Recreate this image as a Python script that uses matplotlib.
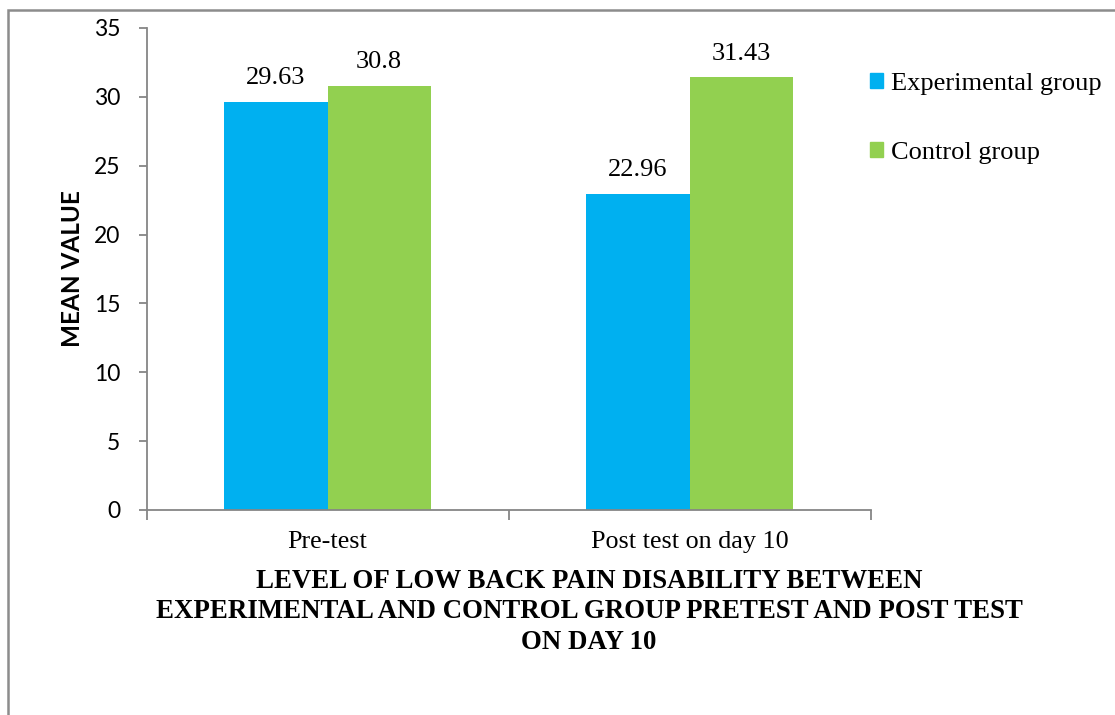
import numpy as np
import matplotlib.pyplot as plt
from matplotlib.patches import Patch, Rectangle

# mean disability scores
categories = ["Pre-test", "Post test on day 10"]
experimental = [29.63, 22.96]
control = [30.8, 31.43]
series_names = ["Experimental group", "Control group"]

blue = "#00B0F0"
green = "#92D050"
axis_grey = "#868686"
serif = ["Liberation Serif", "DejaVu Serif"]
sans = ["Lato", "DejaVu Sans"]

fig = plt.figure(figsize=(11.15, 7.15), dpi=100)
ax = fig.add_axes([146.5 / 1115, 205 / 715, 724 / 1115, 482 / 715])

x = np.arange(len(categories))
width = 1 / 3.5
bars_exp = ax.bar(x - width / 2, experimental, width, color=blue)
bars_ctl = ax.bar(x + width / 2, control, width, color=green)

for bars, vals in [(bars_exp, experimental), (bars_ctl, control)]:
    for b, v in zip(bars, vals):
        ax.annotate(f"{v:g}", (b.get_x() + b.get_width() / 2, v),
                    xytext=(0, 9), textcoords="offset points",
                    ha="center", va="bottom", fontsize=19, family=serif)

ax.set_xlim(-0.5, len(categories) - 0.5)
ax.set_ylim(0, 35)
ax.set_yticks(np.arange(0, 36, 5))
ax.tick_params(axis="y", labelsize=16.5, length=6, width=1.3,
               color=axis_grey, pad=13)
for lbl in ax.get_yticklabels():
    lbl.set_family(sans)

ax.set_xticks(x)
ax.set_xticklabels(categories, fontsize=18.8, family=serif)
ax.tick_params(axis="x", which="major", length=0, pad=15)
ax.set_xticks(np.arange(-0.5, len(categories)), minor=True)
ax.tick_params(axis="x", which="minor", length=7, width=1.3, color=axis_grey)

for side in ["top", "right"]:
    ax.spines[side].set_visible(False)
for side in ["left", "bottom"]:
    ax.spines[side].set_color(axis_grey)
    ax.spines[side].set_linewidth(1.3)

ax.set_ylabel("MEAN VALUE", fontsize=17.5, fontweight="bold", family=sans)
ax.yaxis.set_label_coords(-0.087, 0.5)

fig.text(589 / 1115, 1 - 612 / 715,
         "LEVEL OF LOW BACK PAIN DISABILITY BETWEEN\n"
         "EXPERIMENTAL AND CONTROL GROUP PRETEST AND POST TEST\n"
         "ON DAY 10",
         ha="center", va="center", fontsize=19.4, fontweight="bold",
         family=serif, linespacing=1.3)

handles = [Patch(color=blue), Patch(color=green)]
fig.legend(handles, series_names, loc="upper left",
           bbox_to_anchor=(859 / 1115, 1 - 62 / 715),
           frameon=False, prop={"family": serif, "size": 19},
           handlelength=0.5, handleheight=0.5, handletextpad=0.3,
           labelspacing=1.8, borderaxespad=0)

# outer chart frame (left and top edges only)
fig.patches.append(Rectangle((8 / 1115, -0.1), 1.2, 1.1 - 9.5 / 715,
                             transform=fig.transFigure, fill=False,
                             edgecolor="#8c8c8c", linewidth=1.8))

fig.savefig("out.png", dpi=100)
